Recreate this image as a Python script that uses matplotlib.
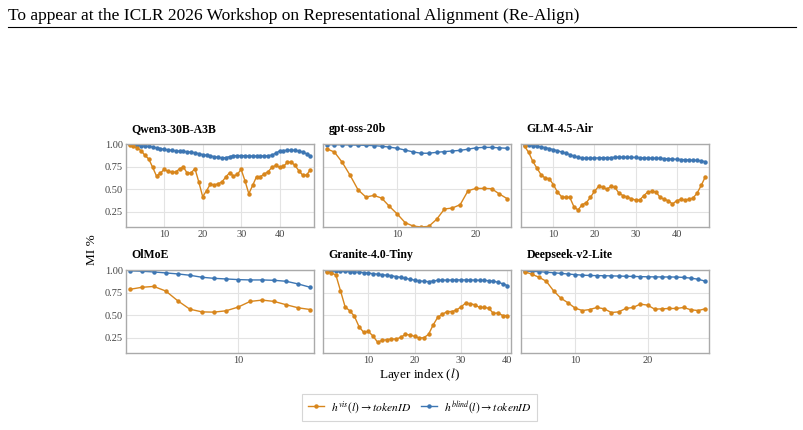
import numpy as np
import matplotlib
matplotlib.use("Agg")
import matplotlib.pyplot as plt
from matplotlib.lines import Line2D

plt.rcParams['font.family'] = ['Liberation Serif', 'DejaVu Serif']
plt.rcParams['mathtext.fontset'] = 'stix'

# model names and first layer index for each panel
models = ["Qwen3-30B-A3B", "gpt-oss-20b", "GLM-4.5-Air",
          "OlMoE", "Granite-4.0-Tiny", "Deepseek-v2-Lite"]
first_layer = [1, 1, 3, 1, 1, 3]

# MI for h^vis(l) -> tokenID
vis_qwen = [0.987, 0.976, 0.957, 0.928, 0.876, 0.835, 0.743, 0.646, 0.68, 0.72,
            0.698, 0.69, 0.69, 0.728, 0.746, 0.676, 0.683, 0.728, 0.58, 0.417,
            0.483, 0.557, 0.546, 0.561, 0.58, 0.635, 0.683, 0.646, 0.665, 0.72,
            0.594, 0.45, 0.543, 0.639, 0.639, 0.669, 0.694, 0.743, 0.765, 0.743,
            0.754, 0.798, 0.802, 0.765, 0.706, 0.657, 0.657, 0.717]
vis_gpt = [0.95, 0.913, 0.798, 0.654, 0.494, 0.413, 0.431, 0.402, 0.309, 0.224,
           0.128, 0.091, 0.08, 0.087, 0.165, 0.28, 0.291, 0.328, 0.483, 0.509,
           0.509, 0.506, 0.446, 0.394]
vis_glm = [0.976, 0.909, 0.809, 0.735, 0.661, 0.624, 0.617, 0.55, 0.469, 0.417,
           0.409, 0.409, 0.306, 0.269, 0.328, 0.35, 0.409, 0.476, 0.531, 0.524,
           0.498, 0.531, 0.52, 0.454, 0.428, 0.413, 0.394, 0.38, 0.38, 0.428,
           0.469, 0.476, 0.469, 0.409, 0.387, 0.372, 0.335, 0.372, 0.387, 0.38,
           0.387, 0.402, 0.457, 0.543, 0.639]
vis_olmoe = [0.787, 0.81, 0.82, 0.769, 0.66, 0.567, 0.537, 0.534, 0.549, 0.59,
             0.653, 0.668, 0.653, 0.616, 0.582, 0.563]
vis_granite = [0.985, 0.97, 0.948, 0.772, 0.593, 0.549, 0.489, 0.373, 0.31, 0.321,
               0.269, 0.201, 0.22, 0.228, 0.235, 0.235, 0.254, 0.287, 0.28, 0.265,
               0.246, 0.25, 0.287, 0.392, 0.478, 0.511, 0.541, 0.541, 0.556, 0.593,
               0.634, 0.627, 0.616, 0.586, 0.586, 0.578, 0.519, 0.526, 0.496, 0.496]
vis_deepseek = [0.985, 0.955, 0.922, 0.877, 0.772, 0.69, 0.638, 0.578, 0.552, 0.563,
                0.586, 0.571, 0.53, 0.537, 0.575, 0.586, 0.623, 0.612, 0.567, 0.571,
                0.575, 0.575, 0.586, 0.56, 0.552, 0.571]

# MI for h^blind(l) -> tokenID
blind_qwen = [1.0, 0.995, 0.99, 0.985, 0.98, 0.975, 0.968, 0.96, 0.952, 0.943,
              0.937, 0.932, 0.927, 0.923, 0.92, 0.917, 0.912, 0.905, 0.895, 0.885,
              0.877, 0.87, 0.862, 0.855, 0.848, 0.852, 0.862, 0.872, 0.874, 0.874,
              0.872, 0.869, 0.869, 0.869, 0.869, 0.87, 0.872, 0.88, 0.9, 0.925,
              0.93, 0.932, 0.935, 0.932, 0.925, 0.912, 0.895, 0.869]
blind_gpt = [0.995, 0.995, 0.994, 0.992, 0.99, 0.988, 0.985, 0.978, 0.968, 0.955,
             0.935, 0.915, 0.9, 0.9, 0.91, 0.918, 0.925, 0.932, 0.945, 0.96,
             0.965, 0.965, 0.96, 0.955]
blind_glm = [0.995, 0.99, 0.985, 0.978, 0.97, 0.962, 0.952, 0.94, 0.928, 0.915,
             0.9, 0.885, 0.868, 0.855, 0.848, 0.845, 0.845, 0.847, 0.848, 0.85,
             0.85, 0.852, 0.855, 0.856, 0.856, 0.855, 0.855, 0.853, 0.851, 0.848,
             0.846, 0.845, 0.844, 0.843, 0.841, 0.838, 0.835, 0.832, 0.83, 0.828,
             0.825, 0.822, 0.82, 0.815, 0.805]
blind_olmoe = [0.993, 0.989, 0.981, 0.97, 0.959, 0.944, 0.922, 0.91, 0.903, 0.896,
               0.892, 0.892, 0.888, 0.877, 0.847, 0.81]
blind_granite = [0.995, 0.993, 0.99, 0.988, 0.986, 0.984, 0.982, 0.978, 0.974, 0.968,
                 0.962, 0.956, 0.95, 0.944, 0.938, 0.93, 0.92, 0.91, 0.9, 0.89,
                 0.882, 0.876, 0.874, 0.88, 0.888, 0.89, 0.89, 0.891, 0.892, 0.892,
                 0.892, 0.891, 0.89, 0.888, 0.886, 0.884, 0.878, 0.866, 0.85, 0.83]
blind_deepseek = [0.99, 0.988, 0.984, 0.978, 0.972, 0.965, 0.958, 0.951, 0.945, 0.942,
                  0.94, 0.939, 0.937, 0.935, 0.933, 0.931, 0.929, 0.927, 0.926, 0.925,
                  0.925, 0.924, 0.92, 0.912, 0.9, 0.878]

vis_all = [vis_qwen, vis_gpt, vis_glm, vis_olmoe, vis_granite, vis_deepseek]
blind_all = [blind_qwen, blind_gpt, blind_glm, blind_olmoe, blind_granite, blind_deepseek]

yticks = [0.25, 0.50, 0.75, 1.00]
c_vis = '#d8861c'
c_blind = '#3d76b3'

fig = plt.figure(figsize=(8.04, 4.30), dpi=100)

# page header
fig.text(0.01, 0.982, "To appear at the ICLR 2026 Workshop on Representational Alignment (Re-Align)",
         fontsize=12.5, va='top', ha='left')
fig.add_artist(Line2D([0.01, 0.99], [0.937, 0.937], color='black', lw=0.8))

lefts = [0.1567, 0.4017, 0.648]
bottoms = [0.4721, 0.1791]
w, h = 0.2338, 0.1935

for i, name in enumerate(models):
    r, c = divmod(i, 3)
    ax = fig.add_axes([lefts[c], bottoms[r], w, h])
    x = np.arange(first_layer[i], first_layer[i] + len(vis_all[i]))
    ax.plot(x, blind_all[i], color=c_blind, marker='o', ms=2.2, lw=1.0)
    ax.plot(x, vis_all[i], color=c_vis, marker='o', ms=2.2, lw=1.0)
    ax.set_xlim(x[0] - 0.02 * (x[-1] - x[0]), x[-1] + 0.02 * (x[-1] - x[0]))
    ax.set_ylim(0.08, 1.005)
    ax.set_yticks(yticks)
    ax.set_xticks([t for t in [10, 20, 30, 40] if t <= x[-1]])
    ax.grid(True, color='#e3e3e3', lw=0.8)
    ax.set_axisbelow(True)
    for s in ax.spines.values():
        s.set_color('#aaaaaa')
        s.set_linewidth(1.0)
    ax.tick_params(length=0, labelsize=7.5, labelcolor='#444444', pad=2)
    if c == 0:
        ax.set_yticklabels(['0.25', '0.50', '0.75', '1.00'])
    else:
        ax.set_yticklabels([])
    ax.text(0.03, 1.1, name, transform=ax.transAxes, fontsize=8.5,
            fontweight='bold', ha='left', va='bottom')

fig.text(0.114, 0.419, "MI %", rotation=90, ha='center', va='center', fontsize=9.5)
fig.text(0.522, 0.128, "Layer index ($l$)", ha='center', va='center', fontsize=9.5)

handles = [Line2D([], [], color=c_vis, marker='o', ms=2.2, lw=1.0),
           Line2D([], [], color=c_blind, marker='o', ms=2.2, lw=1.0)]
labels = [r"$h^{vis}(l) \rightarrow tokenID$", r"$h^{blind}(l) \rightarrow tokenID$"]
leg = fig.legend(handles, labels, loc='center', bbox_to_anchor=(0.522, 0.053), ncol=2,
                 fontsize=8.3, frameon=True, fancybox=False, handlelength=1.4,
                 columnspacing=0.9, borderpad=0.45, handletextpad=0.6)
leg.get_frame().set_edgecolor('#cccccc')
leg.get_frame().set_linewidth(0.8)

fig.savefig("out.png", dpi=100)
